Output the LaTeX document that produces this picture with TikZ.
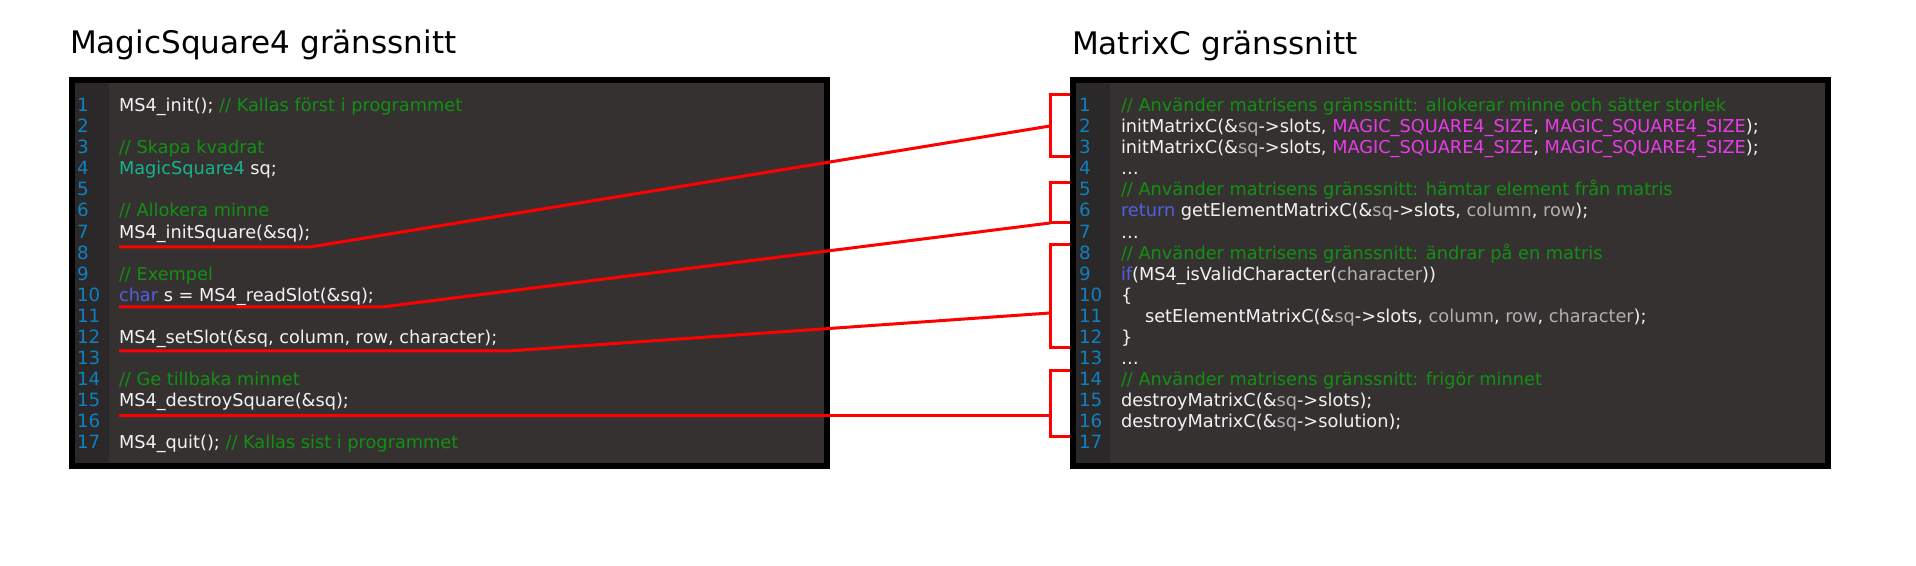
\documentclass[tikz,border=0pt]{standalone}
\usepackage{fontspec}
\setmainfont{DejaVu Sans}
\definecolor{panelbg}{HTML}{353131}
\definecolor{gutterbg}{HTML}{2A2828}
\definecolor{lnblue}{HTML}{0F80C0}
\definecolor{cmtgreen}{HTML}{139013}
\definecolor{typeteal}{HTML}{14B48C}
\definecolor{kwblue}{HTML}{5060E0}
\definecolor{magentac}{HTML}{E83CE8}
\definecolor{greyc}{HTML}{B0B0B0}
\definecolor{whitec}{HTML}{F2F2F2}
\newcommand\ccmt[1]{\textcolor{cmtgreen}{#1}}
\newcommand\ctyp[1]{\textcolor{typeteal}{#1}}
\newcommand\ckw[1]{\textcolor{kwblue}{#1}}
\newcommand\cmag[1]{\textcolor{magentac}{#1}}
\newcommand\cgry[1]{\textcolor{greyc}{#1}}
\begin{document}
\begin{tikzpicture}[x=0.75pt,y=-0.75pt,
  code/.style={anchor=base west,inner sep=0pt,outer sep=0pt,text=whitec,font=\fontsize{13.3}{16}\selectfont},
  lnum/.style={anchor=base west,inner sep=0pt,outer sep=0pt,text=lnblue,font=\fontsize{13.7}{16}\selectfont},
  title/.style={anchor=base west,inner sep=0pt,outer sep=0pt,text=black,font=\fontsize{23.3}{28}\selectfont},
  panel/.style={draw=black,line width=4.5pt,fill=panelbg},
  link/.style={draw=red,line width=2.25pt,line join=miter}]
\useasboundingbox (0,0) rectangle (1916,566);
\fill[white] (0,0) rectangle (1916,566);
% titles
\node[title] (t1) at (70,54) {MagicSquare4 gränssnitt};
\node[title] (t2) at (1072,55) {MatrixC gränssnitt};
% panels
\draw[panel] (72,80) rectangle (827,466);
\fill[gutterbg] (75,83) rectangle (109,463);
\draw[panel] (1073,80) rectangle (1828,466);
\fill[gutterbg] (1076,83) rectangle (1110,463);
% line numbers
\foreach \i in {1,...,17}{
  \node[lnum] (ln\i) at (77,{111.7+21.06*(\i-1)}) {\i};
  \node[lnum] (rn\i) at (1079,{111.7+21.06*(\i-1)}) {\i};
}
% left code
\node[code] (L1) at (119,111.7) {MS4\_init(); \ccmt{// Kallas först i programmet}};
\node[code] (L3) at (119,153.82) {\ccmt{// Skapa kvadrat}};
\node[code] (L4) at (119,174.88) {\ctyp{MagicSquare4} sq;};
\node[code] (L6) at (119,217.0) {\ccmt{// Allokera minne}};
\node[code] (L7) at (119,238.06) {MS4\_initSquare(\&sq);};
\node[code] (L9) at (119,280.18) {\ccmt{// Exempel}};
\node[code] (L10) at (119,301.24) {\ckw{char} s = MS4\_readSlot(\&sq);};
\node[code] (L12) at (119,343.36) {MS4\_setSlot(\&sq, column, row, character);};
\node[code] (L14) at (119,385.48) {\ccmt{// Ge tillbaka minnet}};
\node[code] (L15) at (119,406.54) {MS4\_destroySquare(\&sq);};
\node[code] (L17) at (119,448.66) {MS4\_quit(); \ccmt{// Kallas sist i programmet}};
% right code
\node[code] (R1) at (1121,111.7) {\ccmt{// Använder matrisens gränssnitt: allokerar minne och sätter storlek}};
\node[code] (R2) at (1121,132.76) {initMatrixC(\&\cgry{sq}->slots, \cmag{MAGIC\_SQUARE4\_SIZE}, \cmag{MAGIC\_SQUARE4\_SIZE});};
\node[code] (R3) at (1121,153.82) {initMatrixC(\&\cgry{sq}->slots, \cmag{MAGIC\_SQUARE4\_SIZE}, \cmag{MAGIC\_SQUARE4\_SIZE});};
\node[code] (R4) at (1121,174.88) {…};
\node[code] (R5) at (1121,195.94) {\ccmt{// Använder matrisens gränssnitt: hämtar element från matris}};
\node[code] (R6) at (1121,217.0) {\ckw{return} getElementMatrixC(\&\cgry{sq}->slots, \cgry{column}, \cgry{row});};
\node[code] (R7) at (1121,238.06) {…};
\node[code] (R8) at (1121,259.12) {\ccmt{// Använder matrisens gränssnitt: ändrar på en matris}};
\node[code] (R9) at (1121,280.18) {\ckw{if}(MS4\_isValidCharacter(\cgry{character}))};
\node[code] (R10) at (1121,301.24) {\{};
\node[code] (R11) at (1145,322.3) {setElementMatrixC(\&\cgry{sq}->slots, \cgry{column}, \cgry{row}, \cgry{character});};
\node[code] (R12) at (1121,343.36) {\}};
\node[code] (R13) at (1121,364.42) {…};
\node[code] (R14) at (1121,385.48) {\ccmt{// Använder matrisens gränssnitt: frigör minnet}};
\node[code] (R15) at (1121,406.54) {destroyMatrixC(\&\cgry{sq}->slots);};
\node[code] (R16) at (1121,427.6) {destroyMatrixC(\&\cgry{sq}->solution);};
% connector coordinates
\coordinate (a1) at (119,247); \coordinate (k1) at (310,247);
\coordinate (a2) at (119,307); \coordinate (k2) at (382,307);
\coordinate (a3) at (119,351); \coordinate (k3) at (508,351);
\coordinate (a4) at (119,415);
\coordinate (b1t) at (1070,95);  \coordinate (b1b) at (1070,157); \coordinate (m1) at (1050,126);
\coordinate (b2t) at (1070,183); \coordinate (b2b) at (1070,223); \coordinate (m2) at (1050,223);
\coordinate (b3t) at (1070,245); \coordinate (b3b) at (1070,348); \coordinate (m3) at (1050,313);
\coordinate (b4t) at (1070,371); \coordinate (b4b) at (1070,436); \coordinate (m4) at (1050,415);
% brackets
\draw[link] (b1t) -| (m1) |- (b1b);
\draw[link] (b2t) -| (m2) -- (b2b);
\draw[link] (b3t) -| (m3) |- (b3b);
\draw[link] (b4t) -| (m4) |- (b4b);
% connectors
\draw[link] (a1) -- (k1) -- (m1);
\draw[link] (a2) -- (k2) -- (m2);
\draw[link] (a3) -- (k3) -- (m3);
\draw[link] (a4) -- (m4);
\end{tikzpicture}
\end{document}
